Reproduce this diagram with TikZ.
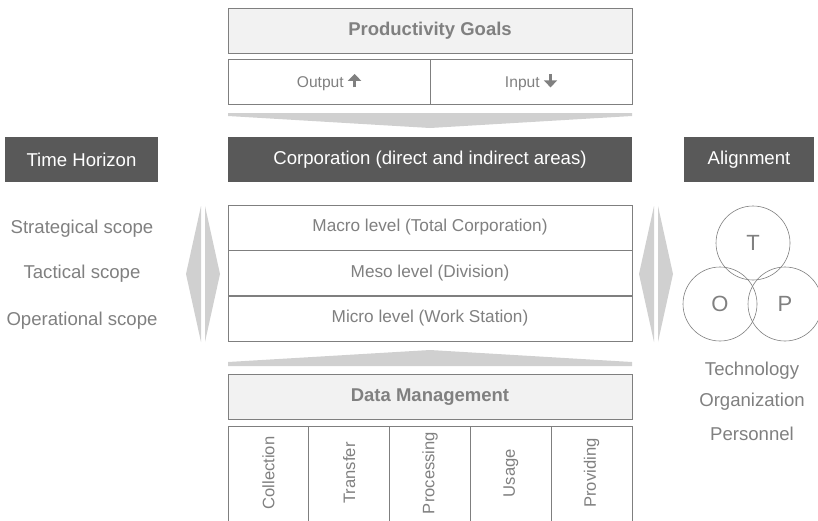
\documentclass[tikz,border=0pt]{standalone}
\usepackage{fontspec}
\usetikzlibrary{arrows.meta}
\setmainfont{Liberation Sans}
\definecolor{txtgray}{HTML}{808080}
\definecolor{linegray}{HTML}{7F7F7F}
\definecolor{darkbox}{HTML}{595959}
\definecolor{lightbox}{HTML}{F2F2F2}
\definecolor{wedge}{HTML}{D0D0D0}
\newcommand{\uparr}{\tikz[baseline=-1pt]\draw[txtgray,line width=3pt,-{Triangle[width=13pt,length=7pt]}] (0,-1pt)--(0,12.5pt);}
\newcommand{\downarr}{\tikz[baseline=-1pt]\draw[txtgray,line width=3pt,-{Triangle[width=13pt,length=7pt]}] (0,12.5pt)--(0,-1pt);}
\tikzset{
  plainbox/.style={draw=linegray,line width=0.8pt,fill=white,text=txtgray,
    minimum height=45pt,inner sep=0pt,font=\fontsize{17.2}{20}\selectfont},
  headbox/.style={plainbox,fill=lightbox,font=\fontsize{18.5}{22}\selectfont\bfseries},
  darkhead/.style={fill=darkbox,text=white,minimum height=45pt,inner sep=0pt,
    font=\fontsize{18.6}{22}\selectfont},
  sidetext/.style={text=txtgray,font=\fontsize{18.6}{22}\selectfont},
  ringnode/.style={circle,draw=linegray,line width=0.6pt,minimum size=74pt,inner sep=0pt,
    text=txtgray,font=\fontsize{22}{26}\selectfont},
  steplabel/.style={rotate=90,text=txtgray,font=\fontsize{16.6}{20}\selectfont}
}
\begin{document}
\begin{tikzpicture}[x=1pt,y=-1pt]
  \useasboundingbox (0,0) rectangle (818,520);
  % productivity goals
  \node[headbox,minimum width=404pt] (goals) at (430,30.5) {Productivity Goals};
  \node[plainbox,minimum width=202pt,font=\fontsize{15.6}{18}\selectfont] (output) at (329,81.5)
    {Output \uparr};
  \node[plainbox,minimum width=202pt,font=\fontsize{15.6}{18}\selectfont] (input) at (531,81.5)
    {Input \downarr};
  \fill[wedge] (228,113)--(632,113)--(632,116)--(430,128)--(228,116)--cycle;
  % headers
  \node[darkhead,minimum width=153pt] (time) at (81.5,159.5) {Time Horizon};
  \node[darkhead,minimum width=404pt] (corp) at (430,159.5) {Corporation (direct and indirect areas)};
  \node[darkhead,minimum width=130pt] (align) at (749,159.5) {Alignment};
  % levels
  \node[plainbox,minimum width=404pt] (macro) at (430,227.5) {Macro level (Total Corporation)};
  \node[plainbox,minimum width=404pt] (meso) at (430,273) {Meso level (Division)};
  \node[plainbox,minimum width=404pt] (micro) at (430,318.5) {Micro level (Work Station)};
  % scope
  \node[sidetext] (strat) at (82,229) {Strategical scope};
  \node[sidetext] (tact) at (82,274) {Tactical scope};
  \node[sidetext] (oper) at (82,321) {Operational scope};
  \fill[wedge] (201,206)--(186,274)--(201,342)--cycle;
  \fill[wedge] (205,206)--(220,274)--(205,342)--cycle;
  \fill[wedge] (654,206)--(639,274)--(654,342)--cycle;
  \fill[wedge] (658,206)--(673,274)--(658,342)--cycle;
  % TOP
  \node[ringnode] (tech) at (753,243) {T};
  \node[ringnode] (orga) at (720,304) {O};
  \node[ringnode] (pers) at (785,304) {P};
  \node[sidetext] (techtxt) at (752,371) {Technology};
  \node[sidetext] (orgatxt) at (752,402) {Organization};
  \node[sidetext] (perstxt) at (752,434) {Personnel};
  % data management
  \fill[wedge] (430,350)--(632,362)--(632,366)--(228,366)--(228,362)--cycle;
  \node[headbox,minimum width=404pt] (data) at (430,397) {Data Management};
  \draw[linegray,line width=0.8pt] (228,530)--(228,426)--(632,426)--(632,530);
  \foreach \cx in {308.8,389.6,470.4,551.2}
    \draw[linegray,line width=0.8pt] (\cx,426)--(\cx,530);
  \foreach \cx/\lbl in {268.4/Collection,349.2/Transfer,430/Processing,510.8/Usage,591.6/Providing}
    \node[steplabel] (step\lbl) at (\cx,473) {\lbl};
\end{tikzpicture}
\end{document}
